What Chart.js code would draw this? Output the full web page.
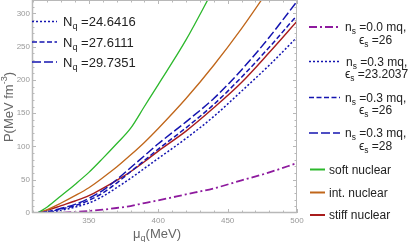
<!DOCTYPE html>
<html>
<head>
<meta charset="utf-8">
<script src="https://cdn.jsdelivr.net/npm/chart.js@4.4.1/dist/chart.umd.min.js"></script>
<style>
  html, body { margin: 0; padding: 0; background: #fff; }
  #wrap { width: 415px; height: 242px; }
</style>
</head>
<body>
<div id="wrap"><canvas id="pressure-chart" width="415" height="242"></canvas></div>
<script>
/* ---- data ---- */
var muGrid    = [309, 313, 320, 330, 340, 350, 360, 370, 380, 390, 400, 420, 440, 460, 480, 500];
var purpleP   = [null, null, 0, 0.5, 1.5, 3, 5, 7.5, 10.5, 15, 19, 28, 37, 49, 61, 75];
var blueDotP  = [0, 0.2, 1, 4, 9, 15, 25, 38, 52, 67, 82, 112, 145, 183, 222, 264];
var blueMidP  = [0, 0.3, 1.5, 6, 11, 19, 30, 45, 62, 79, 96, 128, 163, 204, 249, 297];
var blueLongP = [0, 0.5, 2, 7, 13, 22, 34, 50, 68, 86, 104, 137, 172, 215, 264, 318];
var softP     = [null, 0, 9, 26, 43, 61, 82, 104, 127, 160, 193, 260, 337, null, null, null];
var intP      = [null, 0, 5, 15, 26, 38, 53, 69, 87, 106, 127, 172, 222, 277, 337, null];
var stiffP    = [null, 0, 4, 11, 18, 26, 37, 49, 62, 77, 93, 123, 158, 196, 241, 288];

var xMajorTicks = [350, 400, 450, 500];
var yMajorTicks = [0, 50, 100, 150, 200, 250, 300];

var nqLabels = ['N_q =24.6416', 'N_q =27.6111', 'N_q =29.7351'];
var rightLabels = [
  ['n_s =0.0 mq,', 'ϵ_s =26'],
  ['n_s =0.3 mq,', 'ϵ_s =23.2037'],
  ['n_s =0.3 mq,', 'ϵ_s =26'],
  ['n_s =0.3 mq,', 'ϵ_s =28'],
  ['soft nuclear'],
  ['int. nuclear'],
  ['stiff nuclear']
];

var FONT = "'Liberation Sans', Arial, sans-serif";
var frameColor = '#b8b8b8';

function pts(ys) {
  return muGrid.map(function(m, i) { return {x: m, y: ys[i]}; });
}

function line(label, ys, color, dash, width) {
  return {
    label: label,
    data: pts(ys),
    borderColor: color,
    borderWidth: width || 1.3,
    borderDash: dash || [],
    pointRadius: 0,
    fill: false,
    cubicInterpolationMode: 'monotone'
  };
}

/* ---- rich text: _x subscript, ^{..} superscript ---- */
function parseRich(s) {
  var parts = [], buf = '';
  for (var i = 0; i < s.length; i++) {
    var ch = s[i];
    if (ch === '_' || ch === '^') {
      if (buf) { parts.push({t: buf, m: 0}); buf = ''; }
      var mode = ch === '_' ? 1 : 2;
      if (s[i + 1] === '{') {
        var j = s.indexOf('}', i);
        parts.push({t: s.slice(i + 2, j), m: mode});
        i = j;
      } else {
        parts.push({t: s[i + 1], m: mode});
        i++;
      }
    } else buf += ch;
  }
  if (buf) parts.push({t: buf, m: 0});
  return parts;
}

function richWidth(ctx, s, size) {
  var w = 0;
  parseRich(s).forEach(function(p) {
    ctx.font = (p.m ? size * 0.7 : size) + 'px ' + FONT;
    w += ctx.measureText(p.t).width;
  });
  return w;
}

// x = left edge, y = vertical middle
function drawRich(ctx, s, x, y, size, color) {
  var base = y + size * 0.35;
  ctx.fillStyle = color;
  ctx.textBaseline = 'alphabetic';
  ctx.textAlign = 'left';
  parseRich(s).forEach(function(p) {
    var fs = p.m ? size * 0.7 : size;
    ctx.font = fs + 'px ' + FONT;
    var dy = p.m === 1 ? size * 0.25 : (p.m === 2 ? -size * 0.4 : 0);
    ctx.fillText(p.t, x, base + dy);
    x += ctx.measureText(p.t).width;
  });
}

function sampleLine(ctx, ds, x0, x1, y) {
  ctx.save();
  ctx.strokeStyle = ds.borderColor;
  ctx.lineWidth = ds.borderWidth;
  ctx.setLineDash(ds.borderDash || []);
  ctx.beginPath();
  ctx.moveTo(x0, y);
  ctx.lineTo(x1, y);
  ctx.stroke();
  ctx.restore();
}

/* ---- frame with inside ticks, axis titles, legends ---- */
var decorations = {
  id: 'decorations',
  afterDraw: function(chart) {
    var ctx = chart.ctx, a = chart.chartArea;
    var xs = chart.scales.x, ys = chart.scales.y;
    ctx.save();
    ctx.strokeStyle = frameColor;
    ctx.lineWidth = 1;
    ctx.strokeRect(a.left + 0.5, a.top + 0.5, a.right - a.left - 1, a.bottom - a.top - 1);
    ctx.lineWidth = 1.5;
    ctx.beginPath();
    ctx.moveTo(a.left, a.bottom - 0.5);
    ctx.lineTo(a.right, a.bottom - 0.5);
    ctx.moveTo(a.left + 0.5, a.top);
    ctx.lineTo(a.left + 0.5, a.bottom);
    ctx.stroke();
    ctx.lineWidth = 1;
    ctx.beginPath();
    for (var v = 310; v <= 500; v += 10) {
      var len = xMajorTicks.indexOf(v) >= 0 ? 4 : 2.5;
      var px = Math.round(xs.getPixelForValue(v)) + 0.5;
      ctx.moveTo(px, a.bottom); ctx.lineTo(px, a.bottom - len);
      ctx.moveTo(px, a.top); ctx.lineTo(px, a.top + len);
    }
    for (var w = 10; w <= 310; w += 10) {
      var len2 = yMajorTicks.indexOf(w) >= 0 ? 4 : 2.5;
      var py = Math.round(ys.getPixelForValue(w)) + 0.5;
      ctx.moveTo(a.left, py); ctx.lineTo(a.left + len2, py);
      ctx.moveTo(a.right, py); ctx.lineTo(a.right - len2, py);
    }
    ctx.stroke();

    // axis titles
    var xt = 'μ_q(MeV)';
    drawRich(ctx, xt, 157 - richWidth(ctx, xt, 13) / 2, 233, 13, '#666');
    var yt = 'P(MeV fm^{-3})';
    ctx.translate(8, 107);
    ctx.rotate(-Math.PI / 2);
    drawRich(ctx, yt, -richWidth(ctx, yt, 13) / 2, 0, 13, '#666');
    ctx.restore();

    var dsets = chart.data.datasets;
    // left legend (N_q) for the three blue curves
    var leftRows = [21.5, 42, 62];
    for (var k = 0; k < 3; k++) {
      sampleLine(ctx, dsets[k + 1], a.left, a.left + 25, leftRows[k]);
      drawRich(ctx, nqLabels[k], 63, leftRows[k], 13, '#222');
    }

    // right legend
    var rows = [27, 61.5, 97.5, 133, 169.5, 192.5, 215];
    for (var r = 0; r < rightLabels.length; r++) {
      var lab = rightLabels[r];
      if (lab.length === 2) {
        sampleLine(ctx, dsets[r], 309, 340, rows[r]);
        var w0 = richWidth(ctx, lab[0], 12), w1 = richWidth(ctx, lab[1], 12);
        var bw = Math.max(w0, w1), left = 345;
        drawRich(ctx, lab[0], left + (bw - w0) / 2, rows[r], 12, '#222');
        drawRich(ctx, lab[1], left + (bw - w1) / 2, rows[r] + 12.5, 12, '#222');
      } else {
        sampleLine(ctx, Object.assign({}, dsets[r], {borderWidth: 2}), 310, 325, rows[r]);
        drawRich(ctx, lab[0], 329, rows[r], 12, '#222');
      }
    }
  }
};

new Chart(document.getElementById('pressure-chart'), {
  type: 'line',
  data: {
    datasets: [
      line('ns=0.0', purpleP, '#8e1a9e', [8, 3, 2, 3], 1.8),
      line('Nq=24.6416', blueDotP, '#1414b0', [2, 2], 1.5),
      line('Nq=27.6111', blueMidP, '#1414b0', [5, 2.5], 1.5),
      line('Nq=29.7351', blueLongP, '#1414b0', [9, 3], 1.5),
      line('soft nuclear', softP, '#2cb82c'),
      line('int. nuclear', intP, '#c0661a'),
      line('stiff nuclear', stiffP, '#a81c1c', [], 1.4)
    ]
  },
  options: {
    responsive: false,
    animation: false,
    devicePixelRatio: 1,
    layout: { padding: { left: 0, right: 118, top: 0, bottom: 0 } },
    plugins: { legend: { display: false }, tooltip: { enabled: false } },
    scales: {
      x: {
        type: 'linear',
        min: 309,
        max: 500,
        afterFit: function(s) { s.height = 29; s.paddingLeft = 0; s.paddingRight = 0; },
        ticks: {
          stepSize: 50,
          includeBounds: false,
          autoSkip: false,
          maxRotation: 0,
          padding: 3,
          color: '#999',
          font: { family: FONT, size: 8 }
        },
        grid: { display: false, drawTicks: false },
        border: { display: false }
      },
      y: {
        min: 0,
        max: 320,
        afterFit: function(s) { s.width = 32; s.paddingTop = 0; s.paddingBottom = 0; },
        ticks: {
          stepSize: 50,
          includeBounds: false,
          padding: 2,
          color: '#999',
          font: { family: FONT, size: 8 }
        },
        grid: { display: false, drawTicks: false },
        border: { display: false }
      }
    }
  },
  plugins: [decorations]
});
</script>
</body>
</html>
